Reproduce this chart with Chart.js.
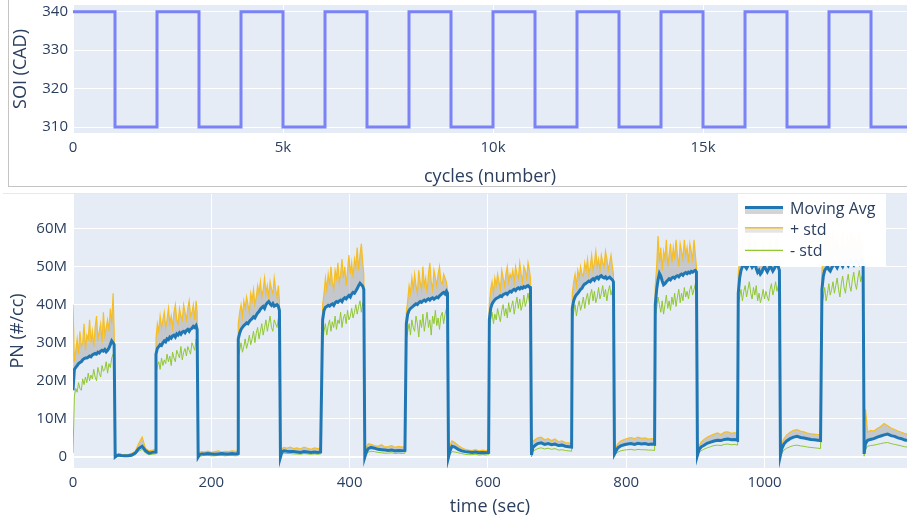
<!DOCTYPE html>
<html>
<head>
<meta charset="utf-8">
<script src="https://cdn.jsdelivr.net/npm/chart.js@4/dist/chart.umd.min.js"></script>
<style>
  html, body { margin: 0; padding: 0; background: #fff; }
  body { width: 907px; height: 519px; position: relative; overflow: hidden; }
  canvas { position: absolute; left: 0; }
  #cTop { top: 0; }
  #cBot { top: 188px; }
  #frameTop { position: absolute; left: 8px; top: 0; width: 899px; height: 186px; border-left: 1px solid #c4c4c4; border-bottom: 1px solid #c4c4c4; }
  #frameBot { position: absolute; left: 3px; top: 193px; width: 904px; height: 1px; background: #e8e8e8; }
</style>
</head>
<body>
<canvas id="cTop" width="907" height="188"></canvas>
<canvas id="cBot" width="907" height="331"></canvas>
<div id="frameTop"></div>
<div id="frameBot"></div>
<script>
// ---------------- TOP: SOI vs cycles ----------------
const cycleEdges = [0,1000,2000,3000,4000,5000,6000,7000,8000,9000,10000,11000,12000,13000,14000,15000,16000,17000,18000,19000,20000];
const soiLevels  = [340,310,340,310,340,310,340,310,340,310,340,310,340,310,340,310,340,310,340,310,310];
const cycleTicks = [0, 5000, 10000, 15000];
const soiTicks = [310, 320, 330, 340];

// ---------------- BOTTOM: PN vs time ----------------
const periodStart = [0, 120, 239, 361, 482, 602, 722, 842, 962, 1083];
const sampleOffset = [0,2,4,6,8,10,12,14,16,18,20,22,24,26,28,30,32,34,36,38,40,42,44,46,48,50,52,54,56,58,59.5,61,63,66,70,75,80,85,90,95,100,105,110,115,119];
const tailTime = [1206];
const tailAvg = [4.3];
const tailUp = [6.0];
const tailLo = [2.6];

// values in millions (#/cc)
const avgOn1 = [17.5,23,23.5,24,24.5,24.8,25,25.5,25.8,26,26,26.2,26.5,26.3,26.8,27,27.2,27,27.5,27.3,27.8,28,27.8,28.2,27.6,28,28.6,29.5,30.5,30,29.5];
const avgOff1 = [0,0.3,0.5,0.4,0.3,0.3,0.5,1.0,2.2,2.8,1.6,1.0,1.2,1.3];
const upOn1 = [40,25,28,31,27,33,29,30,35,28,32,31,36,30,33,29,34,37,31,33,35,30,38,32,34,36,33,39,35,43,33];
const upOff1 = [0.5,0.6,0.8,0.7,0.6,0.7,0.9,1.5,3.5,5.2,2.2,1.6,1.8,2.0];
const loOn1 = [1,16,18,17,19.5,18,17.5,20.5,19,21,19.5,22,20,21.5,20.5,23,21,20,23.5,22,21,24,22.5,23,25,22,24.5,23.5,26,27,25];
const loOff1 = [0,0.1,0.2,0.1,0.1,0.1,0.2,0.6,1.5,2.0,1.0,0.6,0.7,0.8];

const avgOn2 = [27,28.5,29,29.5,29.3,30,30.5,30.2,31,30.8,31.5,31.2,31.8,32,31.5,32.3,32,32.6,32.2,32.8,33,32.6,33.2,33.5,33,33.6,33.8,34.3,34,34.5,33.5];
const avgOff2 = [0,0.6,0.8,0.8,0.9,0.8,0.7,0.8,0.9,0.8,0.8,0.9,0.8,0.9];
const upOn2 = [31,35,33,37,34,36,38,34,36,39,35,37,34,38,40,36,35,39,37,36,40,38,36,39,41,37,38,40,36,41,38];
const upOff2 = [0.3,1.2,1.4,1.3,1.5,1.2,1.4,1.6,1.3,1.5,1.4,1.6,1.5,1.7];
const loOn2 = [22,24,25,23,26,24,25.5,24.5,27,25,26.5,24,27.5,26,25,28,27,26,29,25.5,27.5,28.5,26.5,29,28,27,30,29,28,31,30];
const loOff2 = [0,0.2,0.3,0.4,0.4,0.3,0.3,0.4,0.4,0.3,0.4,0.4,0.3,0.4];

const avgOn3 = [31,32.5,33.5,34,34.5,34.8,35.2,35,35.6,36,36.3,36.8,36.5,37.2,37.8,38.2,38.8,39.2,39.5,39,40,40.5,40.8,40.2,39.8,40.3,39.6,39.8,40,39.5,38.5];
const avgOff3 = [0,1.3,1.6,1.5,1.4,1.4,1.3,1.2,1.4,1.3,1.2,1.3,1.2,1.3];
const upOn3 = [35,38,40,37,41,39,42,40,38,43,41,44,40,42,45,43,46,42,44,47,43,45,42,46,44,43,47,44,42,45,41];
const upOff3 = [0.5,2.2,2.5,2.3,2.6,2.2,2.4,2.1,2.6,2.3,2.0,2.4,2.2,2.3];
const loOn3 = [26,28,30,27.5,29,31,28.5,30,32,29.5,31,33,30,32.5,34,31,33,35,32,34,36,33,35,37,34,33,36,35,34,36.5,35];
const loOff3 = [0,0.8,1.0,0.9,0.9,0.8,0.8,0.7,0.9,0.8,0.7,0.8,0.7,0.8];

const avgOn4 = [36,38.5,39.3,39.5,39.8,39.6,40,40.2,39.8,40.5,40.8,40.6,41,41.2,40.8,41.5,41.8,41.5,42,42.4,42,42.8,43.2,43,43.6,44.2,45,45.6,45.2,44.8,44];
const avgOff4 = [0,1.2,2.2,2.5,2.3,2.0,1.9,1.8,1.7,1.8,1.6,1.7,1.6,1.7];
const upOn4 = [40,43,47,44,48,45,50,46,44,49,47,51,46,48,52,47,50,45,49,53,48,51,47,52,50,55,49,53,56,51,48];
const upOff4 = [0.5,2.5,3.5,3.3,3.0,2.8,3.2,2.6,2.7,3.0,2.5,2.8,2.6,2.7];
const loOn4 = [30,33,35,32,34.5,36,33,35.5,34,37,33.5,36,35,38,34,36.5,37.5,35,38.5,36,37,39,36.5,38,40,37.5,39.5,41,38,40.5,39];
const loOff4 = [0,0.6,1.3,1.5,1.4,1.2,1.1,1.0,1.0,1.1,0.9,1.0,0.9,1.0];

const avgOn5 = [35,37.5,38.5,39,39.3,39.6,39.9,40.2,40,40.5,40.8,40.6,41,41.2,40.9,41.3,41.5,41.2,41.6,41.8,41.4,41.7,42,41.8,42.3,42.6,43,43.2,42.8,43.5,43];
const avgOff5 = [0,1.5,2.8,2.6,2.0,1.6,1.4,1.3,1.2,1.3,1.1,1.2,1.1,1.2];
const upOn5 = [38,41,45,43,47,44,48,45,43,49,46,44,50,45,47,43,48,51,46,44,49,47,45,48,50,46,45.5,48,47,46,44];
const upOff5 = [0.5,3.0,4.2,3.8,3.0,2.4,2.0,1.8,1.7,1.9,1.6,1.8,1.7,1.8];
const loOn5 = [31,33,35,32,36,34,33,37,35,31.5,36,34,37.5,33,35.5,38,34,36,32,37,35,38.5,34.5,36.5,33.5,37,38,35,37.5,39,38];
const loOff5 = [0,0.6,1.4,1.3,1.1,0.9,0.7,0.6,0.6,0.7,0.5,0.6,0.5,0.6];

const avgOn6 = [36,39,40.2,40.8,41.3,41.6,41.8,42,42.3,42.1,42.6,42.8,43,42.7,43.2,43.5,43.3,43.8,44,43.7,44.2,44.4,44.1,44.5,44.3,44.7,44.5,44.8,45,44.6,44.5];
const avgOff6 = [0.5,2.5,3.0,3.5,3.7,3.3,3.5,3.2,3.4,3.0,3.1,2.8,2.7,2.6];
const upOn6 = [40,44,46,43,47,45,48,46,44,49,47,45,48,50,46,48,47,49,46,50,48,47,51,48,46,50,49,47,51,49,47];
const upOff6 = [6.5,4.0,4.5,5.0,5.2,4.5,4.8,4.3,4.7,4.0,4.2,3.8,3.7,3.5];
const loOn6 = [33,36,38,35,37.5,36,39,37,35.5,38.5,40,37,39,36.5,40.5,38,39.5,41,37.5,40,42,39,41.5,38.5,40,42.5,39.5,41,43,40.5,41];
const loOff6 = [0,1.6,1.8,2.2,2.4,2.1,2.3,2.0,2.2,1.8,1.9,1.7,1.6,1.5];

const avgOn7 = [39,41,42,42.6,43,43.5,44,44.3,45,45.4,45.6,45.9,46.2,46,46.5,46.8,46.4,47,47.2,46.8,47.4,47.6,47.2,47,47.3,46.8,47,47.2,46.8,46.5,46];
const avgOff7 = [0.8,1.5,2.4,2.9,3.2,3.4,3.5,3.3,3.6,3.4,3.5,3.3,3.4,3.3];
const upOn7 = [43,46,48,45,49,47,50,48,47.5,51,49,52,48,50,53,49,51,54,50,52,49,53,51,50,54,52,49,51,53,50,48];
const upOff7 = [1.5,2.5,3.5,4.2,4.6,4.9,5.1,4.8,5.2,4.9,5.0,4.7,4.8,4.6];
const loOn7 = [36,38,40,37,39.5,41,38.5,40,42,39,41.5,43,40,42.5,44,41,43.5,40.5,42,44.5,41.5,43,45,42,44,41,43.5,45,42.5,44,43];
const loOff7 = [0.2,0.8,1.3,1.6,1.8,1.9,2.0,1.8,2.0,1.9,1.9,1.8,1.8,1.7];

const avgOn8 = [40,44,46.5,48.2,47.5,46.2,45.2,45.5,46,46.4,46.8,46.5,47,47.2,46.9,47.4,47.6,47.3,47.8,48,47.7,48.2,48.4,48.1,48.5,48.3,48.7,48.5,48.8,49,48.6];
const avgOff8 = [0.5,1.8,2.6,3.0,3.6,3.9,4.2,4.4,4.3,4.6,4.7,4.5,4.6,4.4];
const upOn8 = [45,50,58,51,55,49,54,52,57,50,53,56,51,55,52,57,53,50,56,54,52,57,53,55,51,56,54,52,57,53,50];
const upOff8 = [1.0,2.8,3.8,4.5,5.2,5.6,6.0,6.3,5.9,6.5,6.6,6.2,6.4,6.0];
const loOn8 = [37,39,42,40,38,41,37.5,40,42.5,39,41,38.5,42,40,43,39.5,42,44,40.5,43,41,44.5,42,43.5,41.5,44,45,42.5,44,45.5,44];
const loOff8 = [0.1,1.0,1.6,2.0,2.4,2.7,3.0,3.1,3.0,3.3,3.4,3.2,3.3,3.1];

const avgOn9 = [43,47,49,50,50.5,50,49.5,50.2,51,50.5,49.8,50.3,50.8,49.5,48.5,49,48,48.5,49.5,50,49.2,48.6,49.3,50.1,49.6,48.8,49.4,50.2,50.6,49.8,49];
const avgOff9 = [0.5,2.2,3.4,4.2,4.8,5.2,5.4,5.1,5.0,4.8,4.6,4.5,4.4,4.3];
const upOn9 = [48,52,55,57,56,54,53,56,58,55,53,55,57,54,52,53,51,54,56,55,53,52,55,57,54,52,55,56,58,54,52];
const upOff9 = [1.2,3.5,4.8,5.8,6.5,7.0,7.2,6.8,6.6,6.3,6.1,6.0,5.9,5.7];
const loOn9 = [40,42,44,41,43.5,45,42,44,46,43,41.5,44.5,42.5,45,41,43,40.5,42,44,41.5,43.5,42,41,44,45.5,42.5,44,46,43.5,45,44];
const loOff9 = [0.1,1.0,1.8,2.3,2.7,3.0,3.1,2.9,2.8,2.6,2.5,2.4,2.3,2.2];

const avgOn10 = [44,47.5,49,49.5,50,49.2,48.8,49.6,50.2,50.8,50.3,49.7,50.5,51,50.6,50,50.8,51.2,50.7,50.2,51,51.5,50.9,50.4,51.2,51.6,51,50.6,51.3,51.8,51];
const avgOff10 = [0.8,3.5,4.4,4.6,4.8,5.2,5.5,5.8,6.0,5.6,5.4,5.0,4.8,4.5];
const upOn10 = [49,53,56,58,55,57,54,56,59,57,55,58,56,54,57,59,56,55,58,57,55,59,56,58,57,55,58,59,56,57,55];
const upOff10 = [2.0,12.5,6.5,7.0,6.8,7.5,8.0,8.8,8.2,7.6,7.2,6.8,6.5,6.2];
const loOn10 = [40,42,44.5,41,43,45.5,42.5,44,46,43,45,47,44,42,45.5,47.5,44.5,43,46,48,45,43.5,46.5,48.5,45.5,44,47,49,46,47.5,46];
const loOff10 = [0.2,2.0,2.8,3.0,3.1,3.3,3.5,3.7,3.8,3.5,3.3,3.1,2.9,2.7];

const pnTicks = [0,10,20,30,40,50,60];
const timeTicks = [0,200,400,600,800,1000];
const legendLabels = ['Moving Avg', '+ std', '- std'];

// ---------------- build ----------------
const avgOn = [avgOn1,avgOn2,avgOn3,avgOn4,avgOn5,avgOn6,avgOn7,avgOn8,avgOn9,avgOn10];
const avgOff = [avgOff1,avgOff2,avgOff3,avgOff4,avgOff5,avgOff6,avgOff7,avgOff8,avgOff9,avgOff10];
const upOn = [upOn1,upOn2,upOn3,upOn4,upOn5,upOn6,upOn7,upOn8,upOn9,upOn10];
const upOff = [upOff1,upOff2,upOff3,upOff4,upOff5,upOff6,upOff7,upOff8,upOff9,upOff10];
const loOn = [loOn1,loOn2,loOn3,loOn4,loOn5,loOn6,loOn7,loOn8,loOn9,loOn10];
const loOff = [loOff1,loOff2,loOff3,loOff4,loOff5,loOff6,loOff7,loOff8,loOff9,loOff10];

function buildSeries(onList, offList, tail, name) {
  const pts = [];
  periodStart.forEach((s, p) => {
    const vals = onList[p].concat(offList[p]);
    if (vals.length !== sampleOffset.length) throw new Error(name + ' period ' + (p+1) + ' has ' + vals.length);
    vals.forEach((v, i) => pts.push({ x: s + sampleOffset[i], y: v }));
  });
  pts.push({ x: tailTime[0], y: tail[0] });
  return pts;
}
const avgPts = buildSeries(avgOn, avgOff, tailAvg, 'avg');
const upPts = buildSeries(upOn, upOff, tailUp, 'up');
const loPts = buildSeries(loOn, loOff, tailLo, 'lo');

Chart.defaults.font.family = "'Open Sans', sans-serif";
Chart.defaults.color = '#2a3f5f';

const TXT = '#2a3f5f';
const bgPlugin = {
  id: 'plotBg',
  beforeDraw(chart) {
    const { ctx, chartArea: a } = chart;
    ctx.save();
    ctx.fillStyle = '#e5ecf6';
    ctx.fillRect(a.left, a.top, a.right - a.left, a.bottom - a.top);
    ctx.restore();
  }
};

function fixedTicks(list) {
  return (scale) => { scale.ticks = list.map(v => ({ value: v })); };
}
function fitX(h) {
  return (s) => { s.height = h; s.paddingLeft = 0; s.paddingRight = 0; s.paddingTop = 0; s.paddingBottom = 0; };
}
function fitY(w) {
  return (s) => { s.width = w; s.paddingTop = 0; s.paddingBottom = 0; s.paddingLeft = 0; s.paddingRight = 0; };
}

// TOP chart
new Chart(document.getElementById('cTop'), {
  type: 'line',
  data: {
    datasets: [{
      data: cycleEdges.map((c, i) => ({ x: c, y: soiLevels[i] })),
      stepped: 'before',
      borderColor: '#7a82f5',
      borderWidth: 3,
      pointRadius: 0,
      fill: false,
      tension: 0
    }]
  },
  options: {
    responsive: false,
    animation: false,
    events: [],
    layout: { padding: { top: 5, right: 0, left: 0, bottom: 0 } },
    plugins: { legend: { display: false }, tooltip: { enabled: false } },
    scales: {
      x: {
        type: 'linear', min: 0, max: 19857,
        afterBuildTicks: fixedTicks(cycleTicks),
        ticks: { padding: 6, maxRotation: 0, autoSkip: false, font: { size: 15 }, color: TXT,
          callback: v => v === 0 ? '0' : (v / 1000) + 'k' },
        grid: { color: '#ffffff', lineWidth: 1, drawTicks: false },
        border: { display: false },
        title: { display: true, text: 'cycles (number)', font: { size: 18 }, color: TXT, padding: { top: 0, bottom: 0 } },
        afterFit: fitX(55)
      },
      y: {
        type: 'linear', min: 308.44, max: 341.74,
        afterBuildTicks: fixedTicks(soiTicks),
        ticks: { padding: 5, font: { size: 15 }, color: TXT },
        grid: { color: '#ffffff', lineWidth: 1, drawTicks: false },
        border: { display: false },
        title: { display: true, text: 'SOI (CAD)', font: { size: 18 }, color: TXT, padding: { top: 10, bottom: 0 } },
        afterFit: fitY(73)
      }
    }
  },
  plugins: [bgPlugin]
});

// legend plugin for bottom chart
const legendPlugin = {
  id: 'pnLegend',
  afterDraw(chart) {
    const { ctx, chartArea: a } = chart;
    const bx = a.right - 169, by = a.top, bw = 148, bh = 72;
    ctx.save();
    ctx.fillStyle = 'rgba(255,255,255,0.97)';
    ctx.fillRect(bx, by, bw, bh);
    const sx0 = bx + 7, sx1 = bx + 45, tx = bx + 52;
    const ys = [by + 15, by + 36, by + 57];
    // Moving Avg
    ctx.fillStyle = 'rgba(170,170,170,0.5)';
    ctx.fillRect(sx0, ys[0] - 1.5, sx1 - sx0, 6.5);
    ctx.strokeStyle = '#1f77b4'; ctx.lineWidth = 3;
    ctx.beginPath(); ctx.moveTo(sx0, ys[0] - 1.5); ctx.lineTo(sx1, ys[0] - 1.5); ctx.stroke();
    // + std
    ctx.fillStyle = 'rgba(170,170,170,0.3)';
    ctx.fillRect(sx0, ys[1] - 2.3, sx1 - sx0, 5);
    ctx.strokeStyle = 'rgb(246,190,35)'; ctx.lineWidth = 1.5;
    ctx.beginPath(); ctx.moveTo(sx0, ys[1] - 2.3); ctx.lineTo(sx1, ys[1] - 2.3); ctx.stroke();
    // - std
    ctx.strokeStyle = 'rgb(145,200,50)'; ctx.lineWidth = 1.2;
    ctx.beginPath(); ctx.moveTo(sx0, ys[2] - 0.7); ctx.lineTo(sx1, ys[2] - 0.7); ctx.stroke();
    ctx.fillStyle = TXT;
    ctx.font = "16px 'Open Sans', sans-serif";
    ctx.textBaseline = 'middle';
    ctx.textAlign = 'left';
    legendLabels.forEach((t, i) => ctx.fillText(t, tx, ys[i] + 0.5));
    ctx.restore();
  }
};

// BOTTOM chart
new Chart(document.getElementById('cBot'), {
  type: 'line',
  data: {
    datasets: [
      { label: legendLabels[0], data: avgPts, borderColor: '#1f77b4', borderWidth: 3, pointRadius: 0, fill: false, tension: 0 },
      { label: legendLabels[1], data: upPts, borderColor: 'rgb(246,190,35)', borderWidth: 1.2, pointRadius: 0,
        fill: '-1', backgroundColor: 'rgba(170,170,170,0.55)', tension: 0 },
      { label: legendLabels[2], data: loPts, borderColor: 'rgb(145,200,50)', borderWidth: 1, pointRadius: 0, fill: false, tension: 0 }
    ]
  },
  options: {
    responsive: false,
    animation: false,
    events: [],
    layout: { padding: { top: 6, right: 0, left: 0, bottom: 0 } },
    plugins: { legend: { display: false }, tooltip: { enabled: false } },
    scales: {
      x: {
        type: 'linear', min: 0, max: 1206,
        afterBuildTicks: fixedTicks(timeTicks),
        ticks: { padding: 6, maxRotation: 0, autoSkip: false, font: { size: 15 }, color: TXT, callback: v => String(v) },
        grid: { color: '#ffffff', lineWidth: 1, drawTicks: false },
        border: { display: false },
        title: { display: true, text: 'time (sec)', font: { size: 18 }, color: TXT, padding: { top: 0, bottom: 1 } },
        afterFit: fitX(51)
      },
      y: {
        type: 'linear', min: -2.9, max: 69.05,
        afterBuildTicks: fixedTicks(pnTicks),
        ticks: { padding: 6, font: { size: 15 }, color: TXT, callback: v => v === 0 ? '0' : v + 'M' },
        grid: { color: '#ffffff', lineWidth: c => (c.tick && c.tick.value === 0) ? 2 : 1, drawTicks: false },
        border: { display: false },
        title: { display: true, text: 'PN (#/cc)', font: { size: 18 }, color: TXT, padding: { top: 7, bottom: 0 } },
        afterFit: fitY(73)
      }
    }
  },
  plugins: [bgPlugin, legendPlugin]
});
</script>
</body>
</html>
